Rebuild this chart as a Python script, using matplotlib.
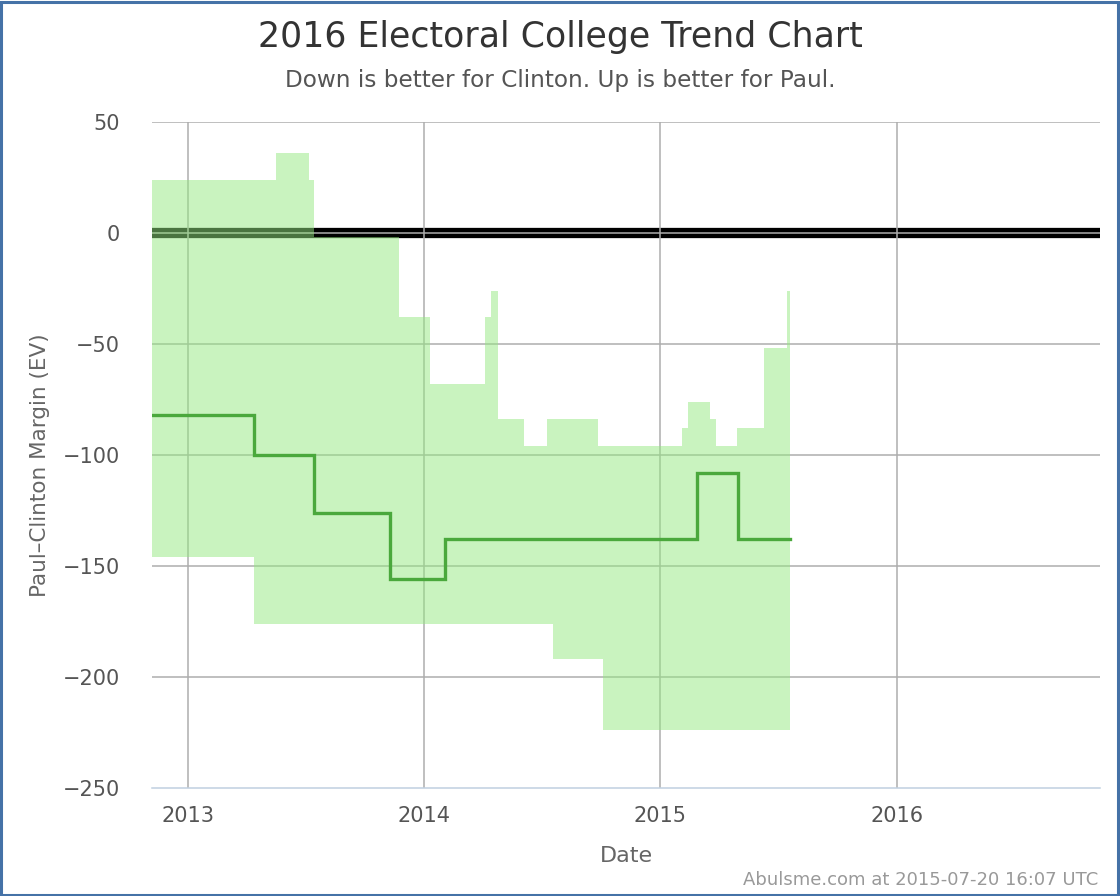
import matplotlib
matplotlib.use("Agg")
import matplotlib.pyplot as plt
import numpy as np
import pandas as pd

# ---- data ----
band_dates = ['2012-11-07', '2013-04-13', '2013-05-18', '2013-07-07', '2013-07-15',
              '2013-11-23', '2014-01-11', '2014-04-06', '2014-04-15', '2014-04-26',
              '2014-06-05', '2014-07-10', '2014-07-19', '2014-09-27', '2014-10-05',
              '2015-02-04', '2015-02-12', '2015-03-19', '2015-03-28', '2015-04-29',
              '2015-06-10', '2015-07-15', '2015-07-20']
band_upper = [24, 24, 36, 24, -2, -38, -68, -38, -26, -84, -96, -84, -84, -96, -96,
              -88, -76, -84, -96, -88, -52, -26, -26]
band_lower = [-146, -176, -176, -176, -176, -176, -176, -176, -176, -176, -176, -176,
              -192, -192, -224, -224, -224, -224, -224, -224, -224, -224, -224]

median_dates = ['2012-11-07', '2013-04-13', '2013-07-15', '2013-11-10', '2014-02-02',
                '2015-02-27', '2015-05-01', '2015-07-20']
median_values = [-82, -100, -126, -156, -138, -108, -138, -138]

year_ticks = ['2013-01-01', '2014-01-01', '2015-01-01', '2016-01-01']
year_labels = ['2013', '2014', '2015', '2016']
y_ticks = [50, 0, -50, -100, -150, -200, -250]

title = "2016 Electoral College Trend Chart"
subtitle = "Down is better for Clinton. Up is better for Paul."
footer = "Abulsme.com at 2015-07-20 16:07 UTC"

# ---- figure ----
plt.rcParams['font.family'] = ['DejaVu Sans']
fig = plt.figure(figsize=(11.2, 8.96), dpi=100)
ax = fig.add_axes([152/1120, 1-788/896, (1100-152)/1120, (788-122)/896])

bd = pd.to_datetime(band_dates)
md = pd.to_datetime(median_dates)

ax.set_xlim(pd.Timestamp('2012-11-07'), pd.Timestamp('2016-11-10'))
ax.set_ylim(-250, 50)

# zero line
ax.axhline(0, color='black', linewidth=7.4, zorder=1)

# grid
grid_col = '#adadad'
for t in pd.to_datetime(year_ticks):
    ax.axvline(t, color=grid_col, linewidth=1.1, zorder=2)
for v in y_ticks:
    if v != -250:
        ax.axhline(v, color=grid_col, linewidth=1.1, zorder=2)

# band
ax.fill_between(bd, band_lower, band_upper, step='post',
                facecolor=(0.58, 0.91, 0.50), alpha=0.5, linewidth=0, zorder=3)

# median line
ax.plot(md, median_values, drawstyle='steps-post', color='#4aa83c',
        linewidth=2.4, zorder=4, solid_joinstyle='miter')

# axes styling
for s in ['top', 'right', 'left']:
    ax.spines[s].set_visible(False)
ax.spines['bottom'].set_color('#c0d0e0')
ax.spines['bottom'].set_linewidth(1.1)
ax.spines['bottom'].set_zorder(5)

ax.set_xticks(pd.to_datetime(year_ticks))
ax.set_xticklabels(year_labels)
ax.set_yticks(y_ticks)
ax.set_yticklabels([str(v).replace('-', '\u2212') for v in y_ticks])
ax.tick_params(axis='both', length=0, labelsize=15, labelcolor='#555555')
ax.tick_params(axis='y', pad=23)
ax.tick_params(axis='x', pad=13)

ax.set_xlabel('Date', fontsize=16, color='#666666', labelpad=14)
ax.set_ylabel('Paul\u2013Clinton Margin (EV)', fontsize=15.5, color='#666666')
ax.yaxis.set_label_coords(-102/948, 0.485)

fig.text(0.5, 1-37/896, title, ha='center', va='center', fontsize=25, color='#333333')
fig.text(0.5, 1-81/896, subtitle, ha='center', va='center', fontsize=16.7, color='#555555')
fig.text(1098/1120, 1-880/896, footer, ha='right', va='center', fontsize=13, color='#999999')

# border
fig.patches.append(matplotlib.patches.Rectangle((0.001, 0.001), 0.997, 0.997,
                   transform=fig.transFigure, fill=False, edgecolor='#4572a7',
                   linewidth=2.2))

fig.savefig('out.png', dpi=100)
